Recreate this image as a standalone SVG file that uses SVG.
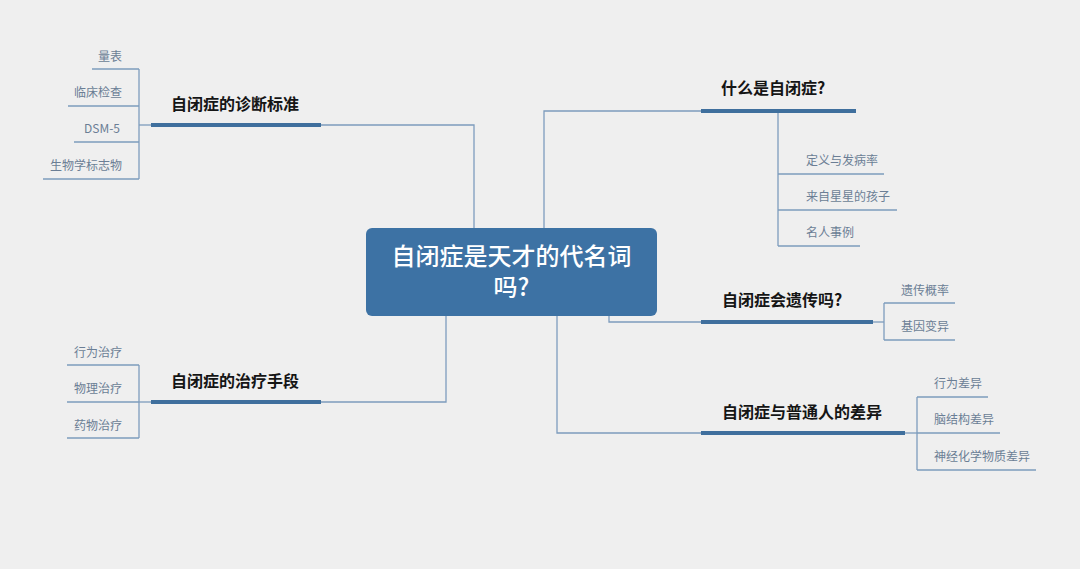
<svg xmlns="http://www.w3.org/2000/svg" width="1080" height="569" viewBox="0 0 1080 569">
<style>
.bg{fill:#efefef}
.thin{fill:none;stroke:#7d9cbd;stroke-width:1.3}
.thick{fill:none;stroke:#3f6f9d;stroke-width:4}
.main{font-family:"Noto Sans CJK SC","Noto Sans",sans-serif;font-size:16px;font-weight:bold;fill:#151515}
.sub{font-family:"Noto Sans CJK SC","Noto Sans",sans-serif;font-size:12px;fill:#6b7e95}
.center{font-family:"Noto Sans CJK SC","Noto Sans",sans-serif;font-size:24px;font-weight:500;fill:#ffffff}
</style>
<rect class="bg" x="0" y="0" width="1080" height="569"/>
<g id="connectors">
<polyline class="thin" points="321,125 474,125 474,228"/>
<polyline class="thin" points="544,228 544,111 701,111"/>
<polyline class="thin" points="609,316 609,322 701,322"/>
<polyline class="thin" points="557,316 557,433 701,433"/>
<polyline class="thin" points="446,316 446,402 321,402"/>
<line class="thin" x1="139" y1="69" x2="139" y2="179"/>
<line class="thin" x1="139" y1="125" x2="151" y2="125"/>
<line class="thin" x1="778" y1="111" x2="778" y2="246"/>
<line class="thin" x1="884" y1="303" x2="884" y2="340"/>
<line class="thin" x1="873" y1="322" x2="884" y2="322"/>
<line class="thin" x1="917" y1="397" x2="917" y2="470"/>
<line class="thin" x1="905" y1="433" x2="917" y2="433"/>
<line class="thin" x1="139" y1="365" x2="139" y2="438"/>
<line class="thin" x1="139" y1="402" x2="151" y2="402"/>
</g>
<g id="center">
<rect x="366" y="228" width="291" height="88" rx="6" fill="#3d72a4"/>
<text class="center" x="511.5" y="265" text-anchor="middle">自闭症是天才的代名词</text>
<text class="center" x="511.5" y="296" text-anchor="middle">吗?</text>
</g>
<g id="diag">
<text class="main" x="171" y="110">自闭症的诊断标准</text>
<line class="thick" x1="151" y1="125" x2="321" y2="125"/>
</g>
<g id="diag-1"><line class="thin" x1="92" y1="69" x2="139" y2="69"/><text class="sub" x="122" y="61" text-anchor="end">量表</text></g>
<g id="diag-2"><line class="thin" x1="68" y1="106" x2="139" y2="106"/><text class="sub" x="122" y="97" text-anchor="end">临床检查</text></g>
<g id="diag-3"><line class="thin" x1="74" y1="142" x2="139" y2="142"/><text class="sub" x="120" y="133" text-anchor="end">DSM-5</text></g>
<g id="diag-4"><line class="thin" x1="43" y1="179" x2="139" y2="179"/><text class="sub" x="122" y="170" text-anchor="end">生物学标志物</text></g>
<g id="what">
<text class="main" x="721" y="94">什么是自闭症?</text>
<line class="thick" x1="701" y1="111" x2="856" y2="111"/>
</g>
<g id="what-1"><line class="thin" x1="778" y1="174" x2="884" y2="174"/><text class="sub" x="806" y="165">定义与发病率</text></g>
<g id="what-2"><line class="thin" x1="778" y1="210" x2="897" y2="210"/><text class="sub" x="806" y="201">来自星星的孩子</text></g>
<g id="what-3"><line class="thin" x1="778" y1="246" x2="860" y2="246"/><text class="sub" x="806" y="237">名人事例</text></g>
<g id="gene">
<text class="main" x="722" y="306">自闭症会遗传吗?</text>
<line class="thick" x1="701" y1="322" x2="873" y2="322"/>
</g>
<g id="gene-1"><line class="thin" x1="884" y1="303" x2="955" y2="303"/><text class="sub" x="901" y="295">遗传概率</text></g>
<g id="gene-2"><line class="thin" x1="884" y1="340" x2="955" y2="340"/><text class="sub" x="901" y="331">基因变异</text></g>
<g id="diff">
<text class="main" x="722" y="418">自闭症与普通人的差异</text>
<line class="thick" x1="701" y1="433" x2="905" y2="433"/>
</g>
<g id="diff-1"><line class="thin" x1="917" y1="397" x2="988" y2="397"/><text class="sub" x="934" y="388">行为差异</text></g>
<g id="diff-2"><line class="thin" x1="917" y1="433" x2="1000" y2="433"/><text class="sub" x="934" y="424">脑结构差异</text></g>
<g id="diff-3"><line class="thin" x1="917" y1="470" x2="1036" y2="470"/><text class="sub" x="934" y="461">神经化学物质差异</text></g>
<g id="treat">
<text class="main" x="171" y="387">自闭症的治疗手段</text>
<line class="thick" x1="151" y1="402" x2="321" y2="402"/>
</g>
<g id="treat-1"><line class="thin" x1="67" y1="365" x2="139" y2="365"/><text class="sub" x="122" y="357" text-anchor="end">行为治疗</text></g>
<g id="treat-2"><line class="thin" x1="67" y1="402" x2="139" y2="402"/><text class="sub" x="122" y="393" text-anchor="end">物理治疗</text></g>
<g id="treat-3"><line class="thin" x1="67" y1="438" x2="139" y2="438"/><text class="sub" x="122" y="430" text-anchor="end">药物治疗</text></g>
</svg>
